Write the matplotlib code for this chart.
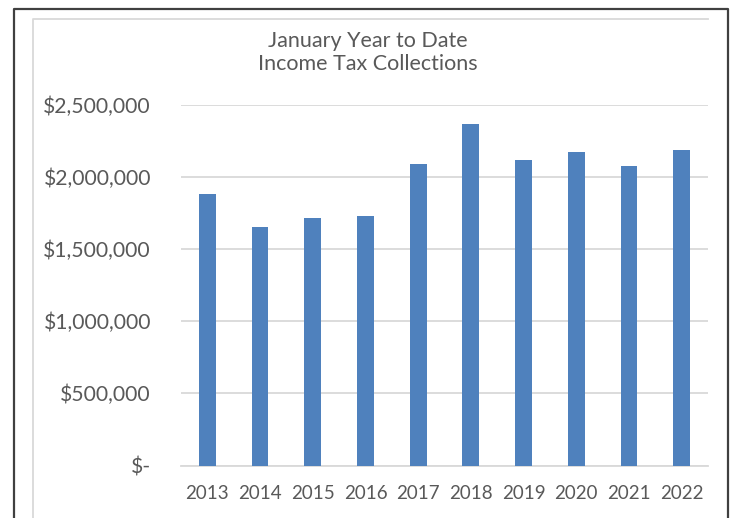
import matplotlib
matplotlib.use("Agg")
import matplotlib.pyplot as plt
from matplotlib.lines import Line2D

years = ["2013", "2014", "2015", "2016", "2017", "2018", "2019", "2020", "2021", "2022"]
collections = [1880000, 1652000, 1716000, 1728000, 2086000, 2367000, 2118000, 2171000, 2072000, 2183000]
y_ticks = [0, 500000, 1000000, 1500000, 2000000, 2500000]
y_labels = ["$-", "$500,000", "$1,000,000", "$1,500,000", "$2,000,000", "$2,500,000"]
title_lines = ["January Year to Date", "Income Tax Collections"]

W, H = 734, 518
plt.rcParams['font.family'] = ['Lato', 'DejaVu Sans']
fig = plt.figure(figsize=(W / 100, H / 100), dpi=100)
fig.patch.set_facecolor('white')

ax = fig.add_axes([181 / W, 1 - 465.5 / H, (708 - 181) / W, (465.5 - 104.7) / H])
x = list(range(len(years)))
ax.bar(x, collections, width=0.32, color='#4F81BD', zorder=3)
ax.set_xlim(-0.5, len(years) - 0.5)
ax.set_ylim(0, 2500000)
ax.set_yticks(y_ticks)
ax.set_yticklabels(y_labels)
ax.set_xticks(x)
ax.set_xticklabels(years)
ax.yaxis.grid(True, color='#d9d9d9', linewidth=1.3, zorder=0)
ax.set_axisbelow(True)
for s in ['top', 'right', 'left']:
    ax.spines[s].set_visible(False)
ax.spines['bottom'].set_color('#d9d9d9')
ax.spines['bottom'].set_linewidth(1.3)
ax.tick_params(axis='both', length=0, colors='#595959')
ax.tick_params(axis='y', pad=21.6, labelsize=15.2)
ax.tick_params(axis='x', pad=14, labelsize=13.5)

fig.text(368 / W, 1 - 47.3 / H, title_lines[0], ha='center', va='baseline', fontsize=15.5, color='#595959')
fig.text(368 / W, 1 - 70 / H, title_lines[1], ha='center', va='baseline', fontsize=15.5, color='#595959')

# outer black frame
fig.add_artist(Line2D([14 / W, 14 / W, 728 / W, 728 / W], [0, 1 - 9 / H, 1 - 9 / H, 0],
                      transform=fig.transFigure, color='#404040', linewidth=1.6))
# inner chart area border (light gray)
fig.add_artist(Line2D([33 / W, 33 / W, 708 / W], [0, 1 - 19 / H, 1 - 19 / H],
                      transform=fig.transFigure, color='#d9d9d9', linewidth=1.3))

fig.savefig('out.png', dpi=100, facecolor='white')
